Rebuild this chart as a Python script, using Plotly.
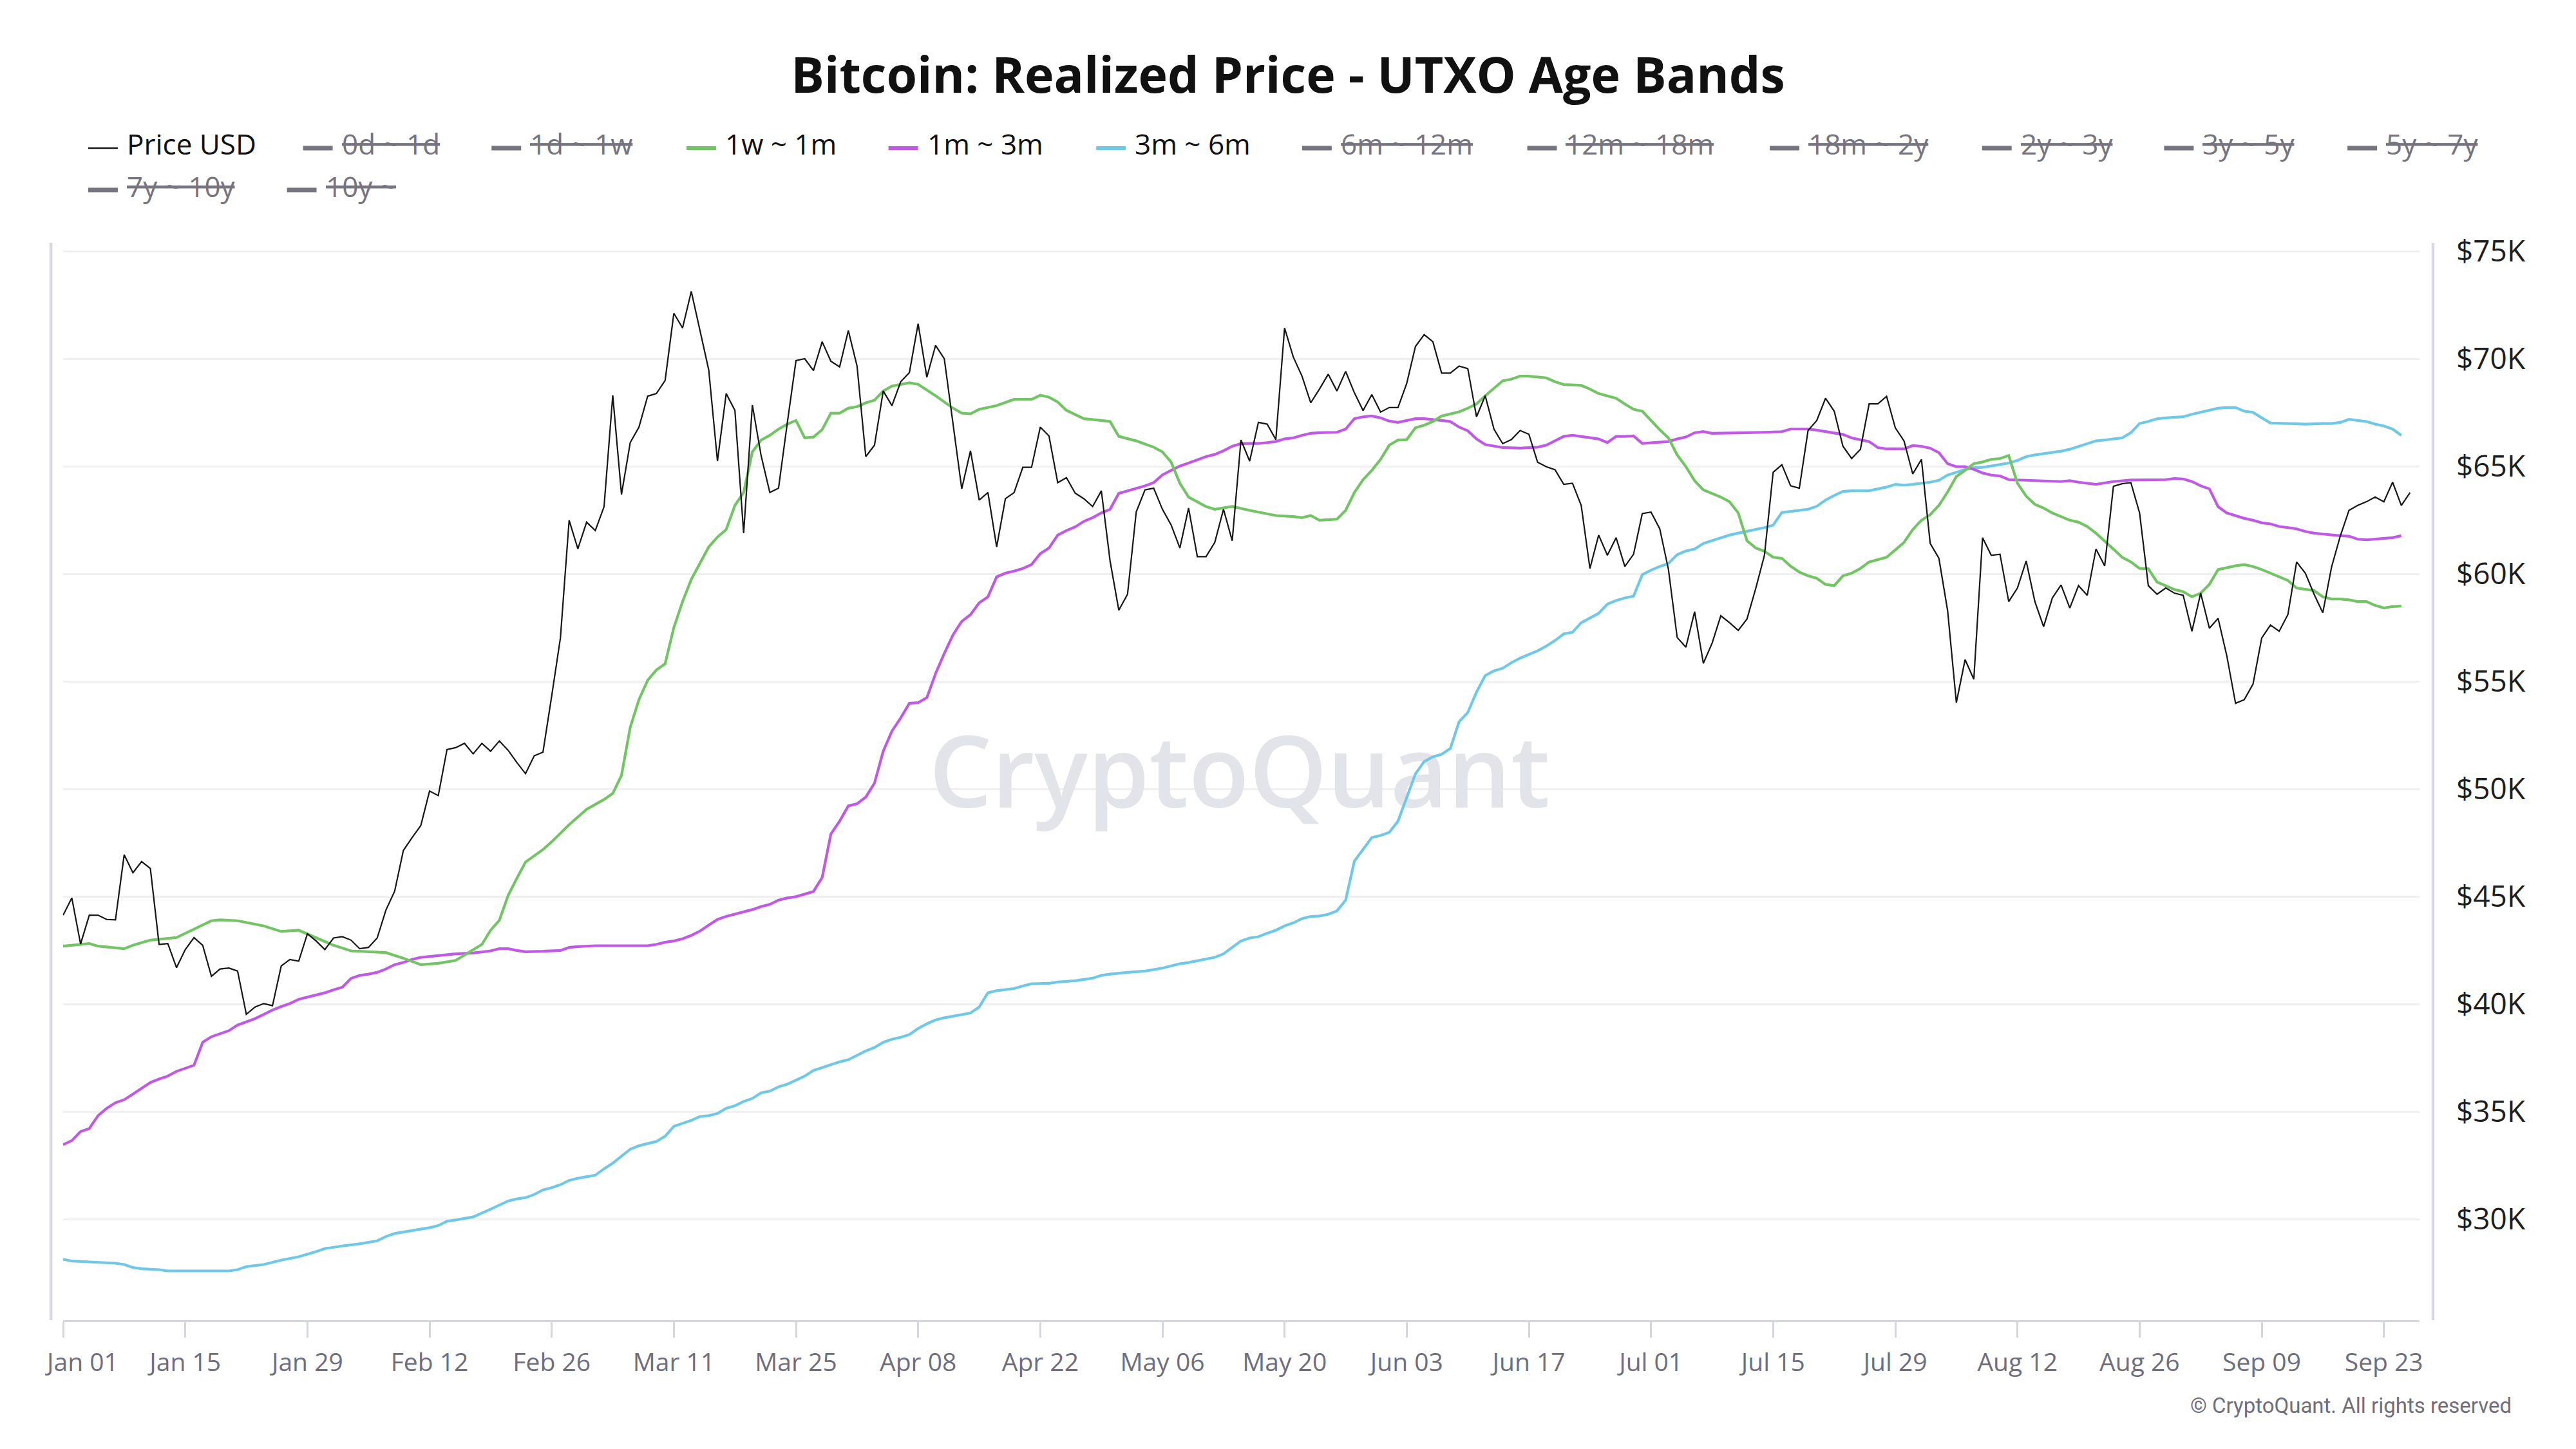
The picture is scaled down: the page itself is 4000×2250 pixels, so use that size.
import pandas as pd
import plotly.graph_objects as go

# ---------------- data (values in $K) ----------------
START = "2024-01-01"

# daily BTC price, Jan 01 .. Sep 26 2024
price_k = [
    44.13, 44.93, 42.79, 44.13, 44.13, 43.93, 43.91, 46.94, 46.10, 46.62,
    46.30, 42.77, 42.81, 41.69, 42.53, 43.09, 42.73, 41.29, 41.63, 41.67,
    41.53, 39.52, 39.86, 40.02, 39.92, 41.77, 42.07, 41.99, 43.27, 42.93,
    42.53, 43.07, 43.13, 42.97, 42.57, 42.63, 43.07, 44.37, 45.24, 47.14,
    47.74, 48.30, 49.90, 49.69, 51.83, 51.92, 52.12, 51.63, 52.12, 51.75,
    52.23, 51.80, 51.23, 50.71, 51.54, 51.71, 54.32, 57.02, 62.49, 61.16,
    62.40, 62.01, 63.12, 68.30, 63.69, 66.10, 66.82, 68.26, 68.38, 68.99,
    72.11, 71.43, 73.13, 71.34, 69.48, 65.24, 68.38, 67.60, 61.89, 67.85,
    65.50, 63.78, 63.98, 67.00, 69.91, 70.00, 69.45, 70.79, 69.88, 69.62,
    71.31, 69.66, 65.45, 65.98, 68.50, 67.82, 68.93, 69.36, 71.63, 69.14,
    70.62, 70.00, 67.00, 63.95, 65.72, 63.43, 63.78, 61.25, 63.49, 63.78,
    64.95, 64.95, 66.82, 66.41, 64.24, 64.47, 63.75, 63.49, 63.13, 63.86,
    60.60, 58.31, 59.05, 62.88, 63.90, 63.98, 63.00, 62.27, 61.20, 63.06,
    60.80, 60.80, 61.46, 63.00, 61.54, 66.22, 65.24, 67.04, 66.96, 66.24,
    71.43, 70.08, 69.19, 67.95, 68.59, 69.28, 68.50, 69.41, 68.42, 67.59,
    68.33, 67.52, 67.73, 67.73, 68.85, 70.57, 71.12, 70.79, 69.33, 69.33,
    69.66, 69.54, 67.30, 68.28, 66.73, 66.05, 66.24, 66.66, 66.49, 65.19,
    64.98, 64.84, 64.16, 64.21, 63.18, 60.25, 61.80, 60.86, 61.68, 60.34,
    60.91, 62.80, 62.87, 62.10, 60.20, 57.04, 56.59, 58.24, 55.84, 56.77,
    58.05, 57.73, 57.37, 57.90, 59.31, 60.86, 64.72, 65.07, 64.09, 63.98,
    66.66, 67.13, 68.16, 67.56, 65.93, 65.36, 65.79, 67.90, 67.90, 68.25,
    66.79, 66.18, 64.64, 65.32, 61.41, 60.72, 58.28, 54.01, 56.01, 55.10,
    61.68, 60.86, 60.91, 58.71, 59.34, 60.60, 58.71, 57.54, 58.88, 59.48,
    58.41, 59.45, 59.00, 61.15, 60.37, 64.07, 64.19, 64.24, 62.83, 59.45,
    59.05, 59.34, 59.10, 59.00, 57.33, 59.10, 57.47, 57.93, 56.18, 53.98,
    54.15, 54.87, 57.02, 57.62, 57.33, 58.11, 60.55, 60.03, 59.05, 58.19,
    60.31, 61.75, 62.95, 63.18, 63.35, 63.57, 63.35, 64.26, 63.18, 63.78,
]

# 1w ~ 1m realized price: day offset from Jan 01, value
g_days = [0, 3, 4, 7, 8, 10, 13, 15, 17, 18, 20, 23, 25, 27, 29, 31, 33, 35, 37, 39,
          41, 43, 45, 48, 49, 50, 51, 52, 53, 55, 56, 58, 60, 62, 63, 64, 65, 66, 67, 68,
          69, 70, 71, 72, 73, 74, 75, 76, 77, 78, 79, 80, 81, 82, 83, 84, 85, 86, 87, 88,
          89, 90, 91, 92, 93, 94, 95, 96, 97, 98, 99, 100, 102, 103, 104, 105, 107, 109, 111, 112,
          113, 114, 115, 117, 119, 120, 121, 123, 125, 126, 127, 128, 129, 131, 132, 134, 136, 138, 139, 141,
          142, 143, 144, 146, 147, 148, 149, 150, 151, 152, 153, 154, 155, 156, 157, 158, 160, 161, 162, 163,
          164, 165, 166, 167, 168, 169, 170, 171, 172, 174, 175, 176, 178, 179, 180, 181, 182, 183, 184, 185,
          186, 187, 188, 189, 190, 191, 192, 193, 194, 195, 196, 197, 198, 199, 200, 201, 202, 203, 204, 205,
          206, 207, 208, 209, 210, 211, 212, 213, 214, 215, 216, 217, 218, 219, 220, 221, 222, 223, 224, 225,
          226, 227, 228, 229, 230, 231, 232, 233, 234, 235, 236, 237, 238, 239, 240, 241, 242, 243, 244, 245,
          246, 247, 248, 249, 250, 251, 252, 253, 254, 255, 256, 257, 258, 259, 260, 261, 262, 263, 264, 265,
          266, 267, 268]
g_vals = [42.69, 42.81, 42.69, 42.57, 42.73, 42.97, 43.09, 43.49, 43.87, 43.91, 43.87, 43.63, 43.37, 43.43, 43.09, 42.73, 42.47, 42.43, 42.39, 42.13,
          41.83, 41.89, 42.03, 42.77, 43.43, 43.89, 45.04, 45.84, 46.60, 47.18, 47.54, 48.34, 49.05, 49.51, 49.79, 50.63, 52.86, 54.15, 55.05, 55.53,
          55.82, 57.50, 58.71, 59.74, 60.51, 61.25, 61.71, 62.06, 63.18, 63.78, 65.67, 66.22, 66.44, 66.73, 66.96, 67.13, 66.32, 66.36, 66.70, 67.47,
          67.47, 67.70, 67.77, 67.95, 68.07, 68.50, 68.73, 68.82, 68.88, 68.81, 68.56, 68.28, 67.70, 67.47, 67.44, 67.65, 67.82, 68.11, 68.11, 68.30,
          68.21, 67.99, 67.60, 67.21, 67.13, 67.08, 66.39, 66.18, 65.89, 65.67, 65.19, 64.21, 63.57, 63.13, 63.00, 63.13, 62.95, 62.80, 62.71, 62.66,
          62.61, 62.71, 62.49, 62.54, 62.95, 63.78, 64.38, 64.81, 65.32, 65.98, 66.22, 66.24, 66.79, 66.91, 67.08, 67.34, 67.53, 67.70, 67.90, 68.28,
          68.62, 68.97, 69.05, 69.19, 69.19, 69.14, 69.11, 68.93, 68.80, 68.76, 68.59, 68.38, 68.16, 67.90, 67.65, 67.56, 67.13, 66.70, 66.32, 65.53,
          64.98, 64.33, 63.90, 63.75, 63.57, 63.35, 62.83, 61.54, 61.20, 61.05, 60.77, 60.72, 60.36, 60.08, 59.91, 59.79, 59.51, 59.45, 59.91, 60.03,
          60.25, 60.55, 60.65, 60.77, 61.11, 61.46, 62.06, 62.49, 62.75, 63.18, 63.81, 64.52, 64.81, 65.12, 65.20, 65.32, 65.36, 65.50, 64.21, 63.61,
          63.23, 63.06, 62.83, 62.66, 62.49, 62.40, 62.20, 61.89, 61.54, 61.15, 60.77, 60.55, 60.25, 60.24, 59.62, 59.45, 59.27, 59.17, 58.93, 59.10,
          59.51, 60.20, 60.29, 60.37, 60.43, 60.34, 60.20, 60.03, 59.86, 59.69, 59.34, 59.27, 59.22, 58.93, 58.83, 58.83, 58.79, 58.71, 58.71, 58.53,
          58.41, 58.48, 58.50]

# 1m ~ 3m realized price
p_days = [0, 1, 2, 3, 4, 5, 6, 7, 8, 9, 10, 11, 12, 13, 14, 15, 16, 17, 18, 19,
          20, 21, 22, 23, 24, 25, 26, 27, 28, 29, 30, 31, 32, 33, 34, 35, 36, 37, 38, 39,
          40, 41, 42, 43, 45, 47, 49, 50, 51, 52, 53, 55, 57, 58, 59, 61, 63, 65, 67, 68,
          69, 70, 71, 72, 73, 74, 75, 76, 77, 78, 79, 80, 81, 82, 83, 84, 85, 86, 87, 88,
          89, 90, 91, 92, 93, 94, 95, 96, 97, 98, 99, 100, 101, 102, 103, 104, 105, 106, 107, 108,
          109, 110, 111, 112, 113, 114, 115, 116, 117, 118, 119, 120, 121, 122, 123, 124, 125, 126, 127, 128,
          129, 130, 131, 132, 133, 134, 135, 136, 137, 138, 139, 140, 141, 142, 143, 144, 146, 147, 148, 149,
          150, 151, 152, 153, 154, 155, 156, 157, 158, 159, 160, 161, 162, 163, 164, 165, 167, 169, 170, 171,
          172, 173, 174, 175, 176, 177, 178, 179, 180, 181, 182, 183, 184, 185, 186, 187, 188, 189, 191, 193,
          195, 196, 197, 198, 200, 201, 202, 203, 204, 205, 206, 207, 208, 209, 211, 212, 213, 214, 215, 216,
          217, 218, 219, 220, 221, 222, 223, 225, 227, 229, 230, 231, 233, 235, 237, 239, 241, 242, 243, 244,
          245, 246, 247, 248, 249, 250, 251, 252, 253, 254, 255, 256, 257, 258, 259, 260, 261, 262, 263, 264,
          265, 266, 267, 268]
p_vals = [33.46, 33.65, 34.07, 34.21, 34.81, 35.15, 35.41, 35.55, 35.81, 36.07, 36.35, 36.51, 36.65, 36.87, 37.01, 37.15, 38.22, 38.48, 38.62, 38.76,
          39.02, 39.16, 39.32, 39.52, 39.72, 39.88, 40.02, 40.22, 40.32, 40.42, 40.52, 40.66, 40.78, 41.19, 41.33, 41.39, 41.47, 41.63, 41.83, 41.93,
          42.07, 42.17, 42.21, 42.25, 42.33, 42.37, 42.47, 42.57, 42.57, 42.49, 42.43, 42.45, 42.49, 42.63, 42.67, 42.71, 42.71, 42.69, 42.71, 42.77,
          42.87, 42.93, 43.03, 43.19, 43.39, 43.67, 43.93, 44.07, 44.17, 44.29, 44.39, 44.53, 44.63, 44.83, 44.93, 44.99, 45.10, 45.23, 45.88, 47.90,
          48.50, 49.21, 49.31, 49.62, 50.27, 51.75, 52.69, 53.30, 53.98, 54.01, 54.24, 55.36, 56.30, 57.16, 57.79, 58.10, 58.65, 58.93, 59.86, 60.03,
          60.13, 60.25, 60.43, 60.94, 61.20, 61.80, 62.01, 62.18, 62.44, 62.61, 62.83, 63.00, 63.74, 63.86, 63.95, 64.09, 64.24, 64.60, 64.81, 65.01,
          65.15, 65.29, 65.45, 65.55, 65.72, 65.93, 66.05, 66.06, 66.06, 66.10, 66.15, 66.27, 66.32, 66.44, 66.53, 66.56, 66.58, 66.73, 67.21, 67.30,
          67.34, 67.25, 67.10, 67.04, 67.13, 67.21, 67.21, 67.18, 67.13, 67.08, 66.82, 66.65, 66.27, 66.01, 65.93, 65.87, 65.84, 65.89, 65.98, 66.18,
          66.39, 66.44, 66.39, 66.32, 66.27, 66.10, 66.39, 66.39, 66.41, 66.06, 66.08, 66.10, 66.15, 66.27, 66.36, 66.56, 66.61, 66.53, 66.53, 66.56,
          66.58, 66.61, 66.61, 66.73, 66.73, 66.68, 66.61, 66.53, 66.48, 66.32, 66.24, 66.15, 65.87, 65.81, 65.81, 65.96, 65.93, 65.84, 65.63, 65.12,
          64.98, 64.98, 64.86, 64.69, 64.59, 64.55, 64.38, 64.35, 64.29, 64.29, 64.33, 64.26, 64.16, 64.29, 64.36, 64.38, 64.38, 64.43, 64.41, 64.29,
          64.09, 63.95, 63.12, 62.83, 62.70, 62.58, 62.49, 62.37, 62.32, 62.20, 62.15, 62.09, 61.97, 61.89, 61.85, 61.80, 61.77, 61.75, 61.61, 61.58,
          61.61, 61.63, 61.68, 61.77]

# 3m ~ 6m realized price
b_days = [0, 1, 3, 5, 6, 7, 8, 9, 11, 12, 15, 16, 19, 20, 21, 23, 25, 27, 29, 30,
          32, 34, 36, 37, 38, 40, 42, 43, 44, 45, 47, 49, 51, 52, 53, 54, 55, 56, 57, 58,
          59, 61, 62, 63, 64, 65, 66, 68, 69, 70, 71, 72, 73, 74, 75, 76, 77, 78, 79, 80,
          81, 82, 83, 84, 85, 86, 87, 88, 89, 90, 91, 92, 93, 94, 95, 96, 97, 98, 99, 100,
          101, 103, 104, 105, 106, 107, 109, 110, 111, 113, 114, 116, 118, 119, 120, 122, 124, 126, 127, 128,
          129, 131, 132, 133, 134, 135, 136, 137, 138, 139, 140, 141, 142, 143, 144, 145, 146, 147, 148, 149,
          150, 151, 152, 153, 154, 155, 156, 157, 158, 159, 160, 161, 162, 163, 164, 165, 166, 167, 168, 169,
          170, 171, 172, 173, 174, 175, 176, 177, 178, 179, 180, 181, 182, 183, 184, 185, 186, 187, 188, 189,
          190, 191, 192, 193, 194, 195, 196, 197, 199, 200, 201, 202, 203, 204, 205, 207, 208, 209, 210, 211,
          212, 213, 214, 215, 216, 217, 218, 219, 220, 221, 222, 223, 224, 225, 226, 227, 228, 229, 230, 231,
          232, 233, 234, 235, 236, 237, 238, 239, 240, 241, 243, 244, 245, 246, 247, 248, 249, 250, 251, 252,
          253, 255, 257, 259, 260, 261, 262, 263, 264, 265, 266, 267, 268]
b_vals = [28.13, 28.05, 28.01, 27.99, 27.95, 27.89, 27.75, 27.69, 27.65, 27.59, 27.57, 27.59, 27.59, 27.65, 27.79, 27.89, 28.09, 28.25, 28.49, 28.63,
          28.75, 28.85, 28.99, 29.19, 29.33, 29.45, 29.60, 29.70, 29.90, 29.96, 30.10, 30.46, 30.84, 30.94, 31.00, 31.14, 31.36, 31.46, 31.60, 31.80,
          31.90, 32.04, 32.34, 32.60, 32.94, 33.25, 33.41, 33.61, 33.85, 34.31, 34.45, 34.59, 34.77, 34.81, 34.91, 35.15, 35.27, 35.47, 35.61, 35.87,
          35.95, 36.15, 36.27, 36.47, 36.65, 36.91, 37.05, 37.17, 37.31, 37.41, 37.62, 37.82, 37.98, 38.22, 38.36, 38.45, 38.58, 38.86, 39.08, 39.26,
          39.36, 39.50, 39.58, 39.86, 40.52, 40.62, 40.72, 40.84, 40.94, 40.96, 41.02, 41.08, 41.20, 41.33, 41.39, 41.47, 41.53, 41.67, 41.77, 41.87,
          41.93, 42.07, 42.17, 42.33, 42.63, 42.93, 43.07, 43.13, 43.29, 43.43, 43.63, 43.77, 43.97, 44.07, 44.09, 44.17, 44.33, 44.83, 46.64, 47.18,
          47.74, 47.84, 47.98, 48.50, 49.57, 50.70, 51.27, 51.49, 51.61, 51.88, 53.12, 53.55, 54.50, 55.27, 55.49, 55.61, 55.87, 56.08, 56.25, 56.42,
          56.64, 56.90, 57.21, 57.28, 57.73, 57.93, 58.16, 58.59, 58.76, 58.88, 58.96, 59.96, 60.17, 60.34, 60.48, 60.89, 61.06, 61.15, 61.41, 61.54,
          61.68, 61.80, 61.89, 61.97, 62.06, 62.15, 62.26, 62.85, 62.95, 63.00, 63.14, 63.43, 63.64, 63.83, 63.86, 63.86, 63.95, 64.03, 64.16, 64.12,
          64.16, 64.21, 64.26, 64.35, 64.59, 64.72, 64.86, 64.93, 64.95, 65.01, 65.07, 65.15, 65.27, 65.45, 65.53, 65.58, 65.62, 65.70, 65.79, 65.93,
          66.06, 66.18, 66.22, 66.27, 66.32, 66.56, 66.99, 67.08, 67.21, 67.25, 67.30, 67.42, 67.52, 67.59, 67.70, 67.73, 67.73, 67.56, 67.51, 67.25,
          67.01, 66.99, 66.96, 66.99, 66.99, 67.04, 67.18, 67.13, 67.08, 66.96, 66.87, 66.73, 66.44]

y_ticks_k = [30, 35, 40, 45, 50, 55, 60, 65, 70, 75]
x_tick_dates = ["2024-01-01", "2024-01-15", "2024-01-29", "2024-02-12", "2024-02-26",
                "2024-03-11", "2024-03-25", "2024-04-08", "2024-04-22", "2024-05-06",
                "2024-05-20", "2024-06-03", "2024-06-17", "2024-07-01", "2024-07-15",
                "2024-07-29", "2024-08-12", "2024-08-26", "2024-09-09", "2024-09-23"]

legend_names = ["Price USD", "0d ~ 1d", "1d ~ 1w", "1w ~ 1m", "1m ~ 3m", "3m ~ 6m",
                "6m ~ 12m", "12m ~ 18m", "18m ~ 2y", "2y ~ 3y", "3y ~ 5y", "5y ~ 7y",
                "7y ~ 10y", "10y ~"]

# ---------------- styling ----------------
FONT = "Open Sans"
C_PRICE = "#161616"
C_GREEN = "#73c464"
C_PURPLE = "#c05ae6"
C_BLUE = "#6ec8e6"
C_HIDDEN = "#75747f"

W, H = 4000, 2250
L, R, T, B = 94, 3757, 377, 2050


def fx(xp):
    return (xp - L) / (R - L)


def fy(yp):
    return (B - yp) / (B - T)


def dates(days):
    return pd.Timestamp(START) + pd.to_timedelta(days, unit="D")


price_dates = pd.date_range(START, periods=len(price_k), freq="D")

fig = go.Figure()

# watermark beneath the lines (text trace placed first)
fig.add_trace(go.Scatter(
    x=[pd.Timestamp("2024-05-14 20:00")], y=[50300], mode="text",
    text=["CryptoQuant"], textposition="middle center",
    textfont=dict(family=FONT, size=154, color="#e3e3ea", weight=600),
    hoverinfo="skip", showlegend=False))

for d, v, c in [(b_days, b_vals, C_BLUE), (p_days, p_vals, C_PURPLE), (g_days, g_vals, C_GREEN)]:
    fig.add_trace(go.Scatter(x=dates(d), y=[x * 1000 for x in v], mode="lines",
                             line=dict(color=c, width=4.2), showlegend=False))

fig.add_trace(go.Scatter(x=price_dates, y=[x * 1000 for x in price_k], mode="lines",
                         line=dict(color=C_PRICE, width=2.2), showlegend=False))

# ---------------- manual legend ----------------
leg_colors = [C_PRICE, C_HIDDEN, C_HIDDEN, C_GREEN, C_PURPLE, C_BLUE] + [C_HIDDEN] * 8
leg_hidden = [False, True, True, False, False, False] + [True] * 8
leg_x = [133, 467, 760, 1063, 1377, 1700, 2020, 2370, 2747, 3077, 3360, 3645, 133, 442]
leg_row = [1] * 12 + [2] * 2
row_text_y = {1: 223, 2: 289}
row_sym_y = {1: 230, 2: 295}

shapes = []
annotations = []
for name, col, hid, x0, row in zip(legend_names, leg_colors, leg_hidden, leg_x, leg_row):
    if name == "Price USD":
        lw = 2.5
    elif hid:
        lw = 7
    else:
        lw = 6
    shapes.append(dict(type="line", xref="paper", yref="paper",
                       x0=fx(x0), x1=fx(x0 + 46), y0=fy(row_sym_y[row]), y1=fy(row_sym_y[row]),
                       line=dict(color=col, width=lw)))
    if hid:
        txt = '<span style="text-decoration:line-through">%s</span>' % name
        tcol = C_HIDDEN
    else:
        txt = name
        tcol = "#111111"
    annotations.append(dict(text=txt, xref="paper", yref="paper", x=fx(x0 + 58), y=fy(row_text_y[row]),
                            xanchor="left", yanchor="middle", showarrow=False,
                            font=dict(family=FONT, size=44, color=tcol)))

# axis side lines
shapes.append(dict(type="line", xref="paper", yref="paper", x0=fx(75), x1=fx(75), y0=0, y1=1,
                   line=dict(color="#d8d8e0", width=4.5)))
shapes.append(dict(type="line", xref="paper", yref="paper", x0=fx(3778), x1=fx(3778), y0=0, y1=1,
                   line=dict(color="#d8d8e0", width=4.5)))

annotations.append(dict(text="© CryptoQuant. All rights reserved", xref="paper", yref="paper",
                        x=fx(3902), y=fy(2182), xanchor="right", yanchor="middle", showarrow=False,
                        font=dict(family="Roboto", size=33, color="#6f6e7c")))

x_tick_text = [pd.Timestamp(d).strftime("%b %d") for d in x_tick_dates]
x_tick_text[0] = "\u00a0" * 6 + x_tick_text[0]

fig.update_layout(
    width=W, height=H,
    margin=dict(l=L, r=W - R, t=T, b=H - B, pad=0),
    paper_bgcolor="white", plot_bgcolor="white",
    font=dict(family=FONT),
    title=dict(text="<b>Bitcoin: Realized Price - UTXO Age Bands</b>", xref="container", x=0.5,
               xanchor="center", yref="container", y=1 - 117 / H, yanchor="middle",
               font=dict(family=FONT, size=77, color="#111111")),
    xaxis=dict(type="date", range=["2024-01-01", "2024-09-27 02:00"],
               tickvals=x_tick_dates, ticktext=x_tick_text,
               showgrid=False, zeroline=False,
               showline=True, linecolor="#d5d5de", linewidth=2.5,
               ticks="outside", ticklen=24, tickwidth=2.5, tickcolor="#d5d5de",
               tickfont=dict(family=FONT, size=39, color="#6e6e7e"), ticklabelstandoff=5),
    yaxis=dict(side="right", range=[25300, 75390],
               tickvals=[v * 1000 for v in y_ticks_k], ticktext=["$%dK" % v for v in y_ticks_k],
               showgrid=True, gridcolor="#f0f0f3", gridwidth=2.5, zeroline=False, showline=False,
               ticks="", tickfont=dict(family=FONT, size=46, color="#1e1e1e"), ticklabelstandoff=56),
    shapes=shapes, annotations=annotations,
    showlegend=False,
)

fig.write_html("out.html")
